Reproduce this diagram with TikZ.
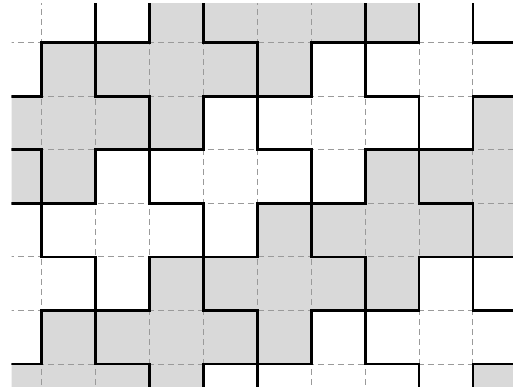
\documentclass[tikz,border=0pt]{standalone}
\usepackage{tikz}
\definecolor{cellgray}{HTML}{D9D9D9}
\definecolor{gridgray}{HTML}{9A9A9A}
\tikzset{
  graycell/.style={fill=cellgray},
  whitecell/.style={fill=white},
  gridline/.style={draw=gridgray, line width=0.9pt, dash pattern=on 6pt off 4pt},
  tileedge/.style={draw=black, line width=2.8pt, line join=miter}
}
\begin{document}
\begin{tikzpicture}[x=1pt,y=-1pt]
\useasboundingbox (0,0) rectangle (513,389);
\fill[white] (0,0) rectangle (513,389);
\begin{scope}
\clip (11.5,3.5) rectangle (513,386);
\begin{scope}[shift={(41.7pt,-42.7pt)}, x=53.9pt, y=-53.55pt]
  % fills of the plus-shaped tiles
  \foreach \r in {-3,...,8} {
    \foreach \c in {-3,...,11} {
      \pgfmathtruncatemacro{\k}{mod(\c+2*\r+100,5)}
      \ifnum\k=2
        \pgfmathtruncatemacro{\q}{mod(int((\c+2*\r+98)/5),2)}
        \ifnum\q=0
          \fill[graycell] ({\c},{\r-1}) -- ++(1,0) -- ++(0,1) -- ++(1,0) -- ++(0,1) -- ++(-1,0) -- ++(0,1) -- ++(-1,0) -- ++(0,-1) -- ++(-1,0) -- ++(0,-1) -- ++(1,0) -- cycle;
        \fi
      \fi
    }
  }
  % dashed grid
  \foreach \i in {-1,...,9} {
    \coordinate (vt\i) at (\i,-1);
    \coordinate (vb\i) at (\i,7);
    \draw[gridline] (vt\i) -- (vb\i);
  }
  \foreach \j in {-1,...,7} {
    \coordinate (hl\j) at (-1,\j);
    \coordinate (hr\j) at (9,\j);
    \draw[gridline] (hl\j) -- (hr\j);
  }
  % thick outlines of the tiles
  \foreach \r in {-3,...,8} {
    \foreach \c in {-3,...,11} {
      \pgfmathtruncatemacro{\k}{mod(\c+2*\r+100,5)}
      \ifnum\k=2
        \draw[tileedge] ({\c},{\r-1}) -- ++(1,0) -- ++(0,1) -- ++(1,0) -- ++(0,1) -- ++(-1,0) -- ++(0,1) -- ++(-1,0) -- ++(0,-1) -- ++(-1,0) -- ++(0,-1) -- ++(1,0) -- cycle;
      \fi
    }
  }
\end{scope}
\end{scope}
\end{tikzpicture}
\end{document}
